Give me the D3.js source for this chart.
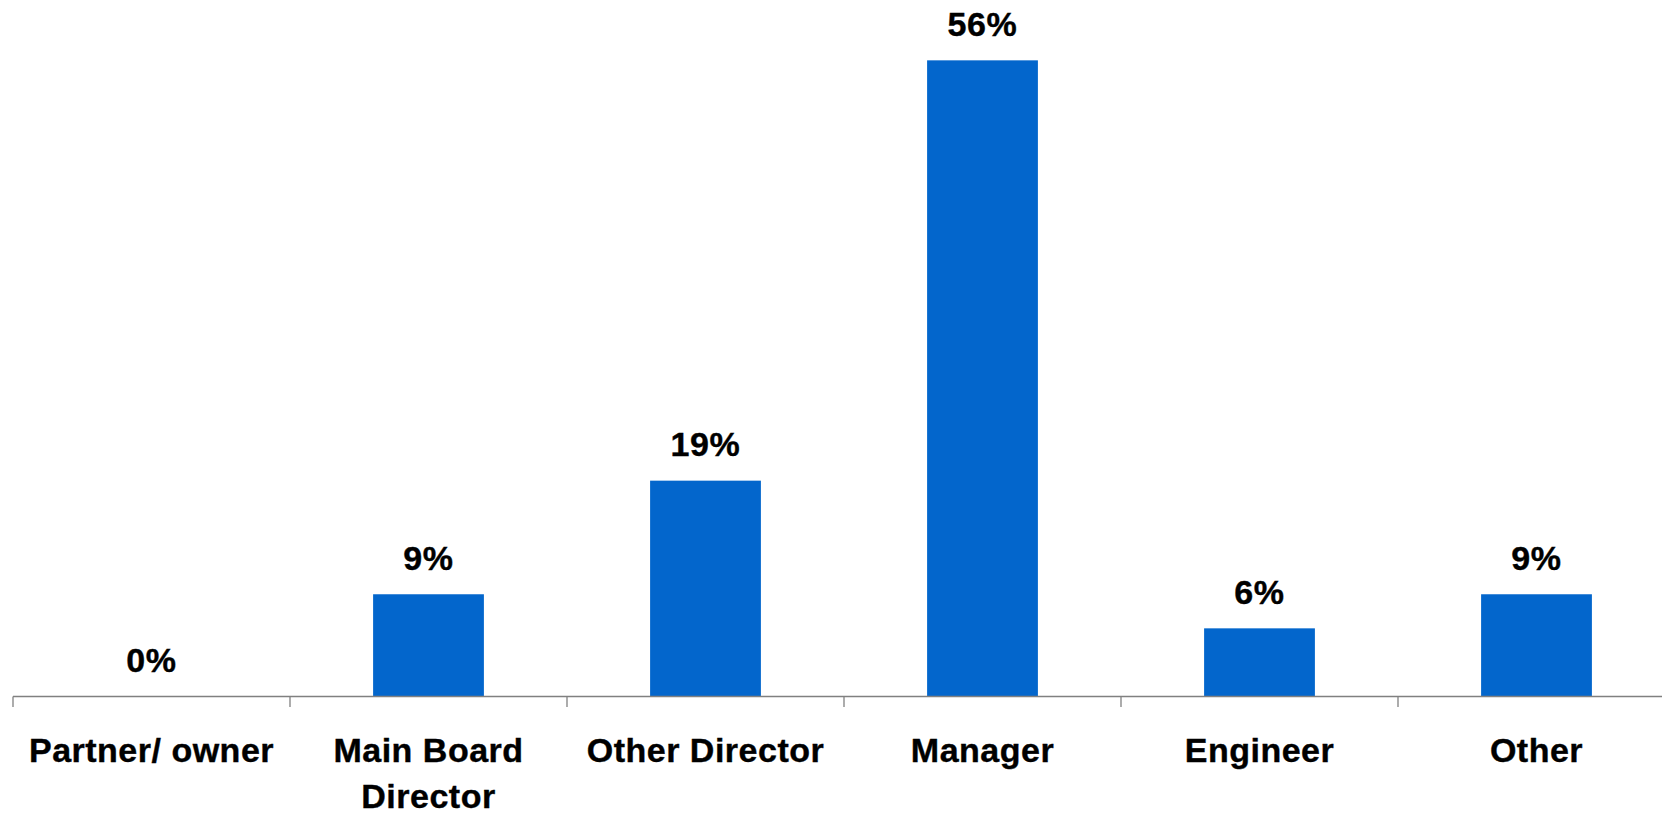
<!DOCTYPE html>
<html><head><meta charset="utf-8">
<script src="https://cdn.jsdelivr.net/npm/d3@7"></script>
<style>body{margin:0;background:#fff}svg{display:block}</style>
</head><body>
<script>
const categories = [["Partner/ owner"], ["Main Board", "Director"], ["Other Director"], ["Manager"], ["Engineer"], ["Other"]];
const values = [0, 9, 19, 56, 6, 9];
const labels = ["0%", "9%", "19%", "56%", "6%", "9%"];

const W = 1662, H = 815;
const svg = d3.select("body").append("svg").attr("width", W).attr("height", H);
const keys = categories.map((c, i) => i);
const x = d3.scaleBand().domain(keys).range([13, 13 + 6 * 277]).paddingInner(0).paddingOuter(0);
const y = d3.scaleLinear().domain([0, 60]).range([696.5, 14.9]);
const bw = x.bandwidth() * 0.4;

svg.append("g").selectAll("rect").data(values).join("rect")
  .attr("x", (d, i) => x(i) + (x.bandwidth() - bw) / 2)
  .attr("width", bw)
  .attr("y", d => y(d))
  .attr("height", d => y(0) - y(d))
  .attr("fill", "#0366cc");

const axis = svg.append("g").attr("transform", `translate(0,${y(0)})`)
  .call(d3.axisBottom(x).tickSize(0).tickFormat(""));
axis.select(".domain").attr("stroke", "#808080").attr("stroke-width", 1.3).attr("d", `M${x.range()[0]},0H${x.range()[1]}`);
axis.selectAll(".tick").remove();
axis.selectAll("line.sep").data(keys).join("line").attr("class", "sep")
  .attr("x1", d => x(d)).attr("x2", d => x(d)).attr("y1", 0).attr("y2", 10.5)
  .attr("stroke", "#808080").attr("stroke-width", 1.3);

const font = "Liberation Sans, Arial, sans-serif";
svg.append("g").selectAll("text").data(values).join("text")
  .attr("x", (d, i) => x(i) + x.bandwidth() / 2)
  .attr("y", d => y(d) - 24.5)
  .attr("text-anchor", "middle")
  .attr("font-family", font)
  .attr("font-weight", "bold").attr("font-size", 34)
  .attr("letter-spacing", 0.6)
  .attr("fill", "#000").attr("stroke", "#000").attr("stroke-width", 0.4)
  .text((d, i) => labels[i]);

const cl = svg.append("g").selectAll("text").data(categories).join("text")
  .attr("text-anchor", "middle")
  .attr("font-family", font)
  .attr("font-weight", "bold").attr("font-size", 34)
  .attr("letter-spacing", 0.5)
  .attr("fill", "#000").attr("stroke", "#000").attr("stroke-width", 0.4);
cl.each(function(lines, i) {
  d3.select(this).selectAll("tspan").data(lines).join("tspan")
    .attr("x", x(i) + x.bandwidth() / 2)
    .attr("y", (l, j) => 762 + j * 46)
    .text(l => l);
});
</script>
</body></html>
